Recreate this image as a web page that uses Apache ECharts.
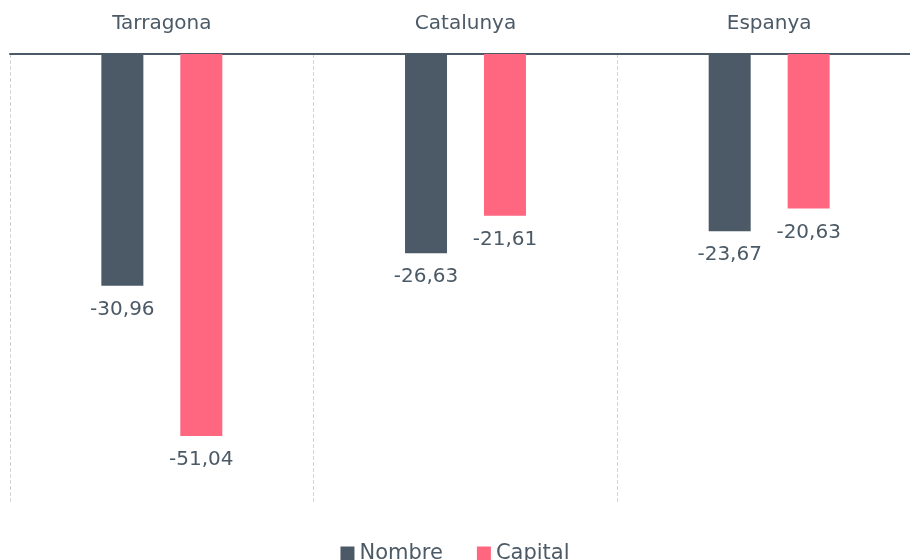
<!DOCTYPE html>
<html>
<head>
<meta charset="utf-8">
<script src="https://cdn.jsdelivr.net/npm/echarts@6/dist/echarts.min.js"></script>
<style>
  html, body { margin: 0; padding: 0; background: #fff; }
  #chart { width: 910px; height: 560px; }
</style>
</head>
<body>
<div id="chart"></div>
<script>
// dades
var categories = ['Tarragona', 'Catalunya', 'Espanya'];
var nombre = [-30.96, -26.63, -23.67];
var capital = [-51.04, -21.61, -20.63];

var myChart = echarts.init(document.getElementById('chart'));

var labelFmt = function (p) {
  return p.value.toFixed(2).replace('.', ',');
};

var option = {
  animation: false,
  textStyle: { fontFamily: 'DejaVu Sans' },
  legend: {
    bottom: -9,
    left: 'center',
    itemWidth: 14,
    itemHeight: 14,
    itemGap: 34,
    icon: 'rect',
    textStyle: { color: '#4b5a66', fontSize: 21, fontFamily: 'DejaVu Sans' },
    data: ['Nombre', 'Capital']
  },
  grid: {
    top: 54,
    left: 10,
    width: 911,
    height: 449,
    outerBoundsMode: 'none'
  },
  xAxis: {
    type: 'category',
    position: 'top',
    data: categories,
    axisLine: { show: true, lineStyle: { color: '#4b5a66', width: 2 } },
    axisTick: { show: false },
    axisLabel: { color: '#4b5a66', fontSize: 20, margin: 20, fontFamily: 'DejaVu Sans' },
    splitLine: {
      show: true,
      lineStyle: { color: '#d4d4d4', type: 'dashed', width: 1 }
    }
  },
  yAxis: {
    type: 'value',
    min: -60,
    max: 0,
    show: false,
    splitLine: { show: false }
  },
  series: [
    {
      name: 'Nombre',
      type: 'bar',
      data: nombre,
      barWidth: 42,
      barGap: '88%',
      itemStyle: { color: '#4b5a66' },
      label: {
        show: true,
        position: 'bottom',
        distance: 14,
        color: '#4b5a66',
        fontSize: 20,
        fontFamily: 'DejaVu Sans',
        formatter: labelFmt
      }
    },
    {
      name: 'Capital',
      type: 'bar',
      data: capital,
      barWidth: 42,
      itemStyle: { color: '#ff6680' },
      label: {
        show: true,
        position: 'bottom',
        distance: 14,
        color: '#4b5a66',
        fontSize: 20,
        fontFamily: 'DejaVu Sans',
        formatter: labelFmt
      }
    }
  ]
};

myChart.setOption(option, true);
</script>
</body>
</html>
